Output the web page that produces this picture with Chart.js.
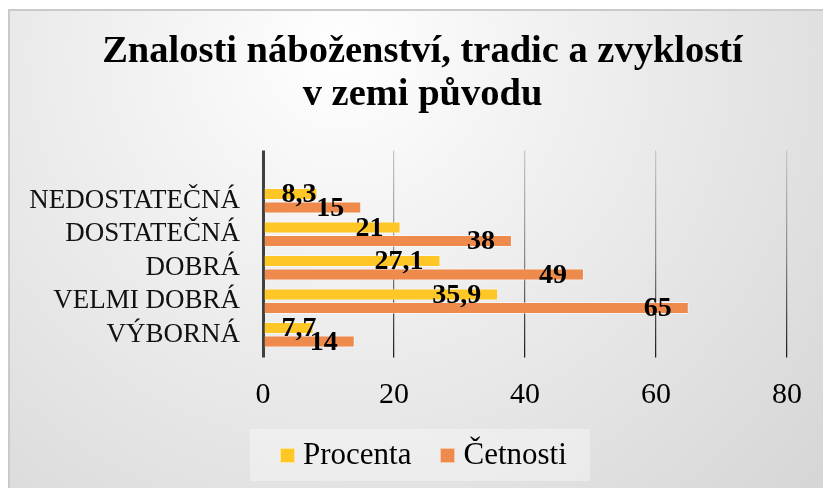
<!DOCTYPE html>
<html>
<head>
<meta charset="utf-8">
<script src="https://cdn.jsdelivr.net/npm/chart.js@4.4.1/dist/chart.umd.min.js"></script>
<style>
  html, body { margin: 0; padding: 0; background: #fff; overflow: hidden; }
  #frame {
    position: absolute; left: 8px; top: 9px;
    width: 825px; height: 480px;
    border: 2px solid #cacaca;
    background: radial-gradient(circle 660px at 330px 40px, #ffffff 0%, #f4f4f4 25%, #d5d5d5 100%);
  }
  #legend {
    position: absolute; left: 250px; top: 429px;
    width: 340px; height: 52px; box-sizing: border-box;
    padding: 0 0 4px 30px;
    background: rgba(255, 255, 255, 0.35);
    display: flex; align-items: center;
    font-family: "Liberation Serif", serif; font-size: 31px; line-height: 1; color: #000;
  }
  #legend .box {
    width: 13px; height: 13px; border: 1px solid rgba(255, 255, 255, 0.55);
    margin-right: 8px; position: relative; top: 2px;
  }
  #legend .item { display: flex; align-items: center; margin-right: 29px; }
</style>
</head>
<body>
<div id="frame"><canvas id="chart" width="825" height="480"></canvas></div>
<div id="legend"></div>
<script>
const titleLines = ['Znalosti náboženství, tradic a zvyklostí', 'v zemi původu'];
const categories = ['NEDOSTATEČNÁ', 'DOSTATEČNÁ', 'DOBRÁ', 'VELMI DOBRÁ', 'VÝBORNÁ'];
const procenta = [8.3, 21, 27.1, 35.9, 7.7];
const cetnosti = [15, 38, 49, 65, 14];
const xTicks = [0, 20, 40, 60, 80];
const seriesNames = ['Procenta', 'Četnosti'];
const seriesColors = ['#FFC725', '#EE8A4C'];

// blank first row keeps the empty band above the bars
const rowLabels = [''].concat(categories);
const padRow = arr => [null].concat(arr);

// grid lines fade from light at the top to dark at the bottom
function gridColor(c) {
    if (c.tick && c.tick.value === 0) return '#404040';
    const area = c.chart.chartArea;
    if (!area) return '#888';
    const g = c.chart.ctx.createLinearGradient(0, area.top, 0, area.bottom + 6);
    g.addColorStop(0, '#c8c8c8');
    g.addColorStop(0.5, '#8c8c8c');
    g.addColorStop(1, '#1c1c1c');
    return g;
}

// title is centred on the whole canvas, not on the padded box
const fullWidthTitle = {
    id: 'fullWidthTitle',
    afterLayout(chart) {
        const t = chart.titleBlock;
        if (t) {
            t.left = 0;
            t.right = chart.width;
            t.width = chart.width;
        }
    }
};

// value labels sit just inside the bar end
const valueLabels = {
    id: 'valueLabels',
    afterDatasetsDraw(chart) {
        const ctx = chart.ctx;
        ctx.save();
        ctx.font = 'bold 28px "Liberation Serif"';
        ctx.fillStyle = '#000';
        ctx.textBaseline = 'middle';
        ctx.textAlign = 'left';
        chart.data.datasets.forEach((ds, i) => {
            chart.getDatasetMeta(i).data.forEach((bar, j) => {
                const v = ds.data[j];
                if (v == null) return;
                const txt = String(v).replace('.', ',');
                const w = ctx.measureText(txt).width;
                const x = Math.max(bar.x - 17 - w, bar.base + 17);
                ctx.fillText(txt, x, bar.y + 1);
            });
        });
        ctx.restore();
    }
};

const ctx = document.getElementById('chart').getContext('2d');
new Chart(ctx, {
    type: 'bar',
    data: {
        labels: rowLabels,
        datasets: [
            { label: seriesNames[0], data: padRow(procenta), backgroundColor: seriesColors[0],
              borderColor: 'rgba(255,255,255,0.45)', borderWidth: 1 },
            { label: seriesNames[1], data: padRow(cetnosti), backgroundColor: seriesColors[1],
              borderColor: 'rgba(255,255,255,0.45)', borderWidth: 1 }
        ]
    },
    options: {
        indexAxis: 'y',
        responsive: false,
        animation: false,
        layout: { padding: { left: 0, right: 48, top: 0, bottom: 79.5 } },
        plugins: {
            legend: { display: false },
            tooltip: { enabled: false },
            title: {
                display: true,
                text: titleLines,
                color: '#000',
                font: { family: 'Liberation Serif', size: 38.5, weight: 'bold', lineHeight: 43 / 38.5 },
                padding: { top: 19.5, bottom: 34 }
            }
        },
        scales: {
            x: {
                min: 0,
                max: 80,
                afterBuildTicks: s => { s.ticks = xTicks.map(v => ({ value: v })); },
                afterFit: s => { s.height = 60; },
                border: { display: false },
                grid: {
                    color: gridColor,
                    lineWidth: c => (c.tick && c.tick.value === 0) ? 3 : 1.25,
                    drawTicks: true,
                    tickLength: 6
                },
                ticks: {
                    padding: 20,
                    color: '#000',
                    font: { family: 'Liberation Serif', size: 30 }
                }
            },
            y: {
                afterFit: s => { s.width = 253; },
                border: { display: false },
                grid: { display: false, drawTicks: false },
                ticks: {
                    autoSkip: false,
                    padding: 23,
                    color: '#111',
                    font: { family: 'Liberation Serif', size: 27 }
                }
            }
        }
    },
    plugins: [fullWidthTitle, valueLabels]
});

// legend below the axis
const legend = document.getElementById('legend');
seriesNames.forEach((name, i) => {
    const item = document.createElement('div');
    item.className = 'item';
    const box = document.createElement('span');
    box.className = 'box';
    box.style.background = seriesColors[i];
    const text = document.createElement('span');
    text.textContent = name;
    item.appendChild(box);
    item.appendChild(text);
    legend.appendChild(item);
});
</script>
</body>
</html>
